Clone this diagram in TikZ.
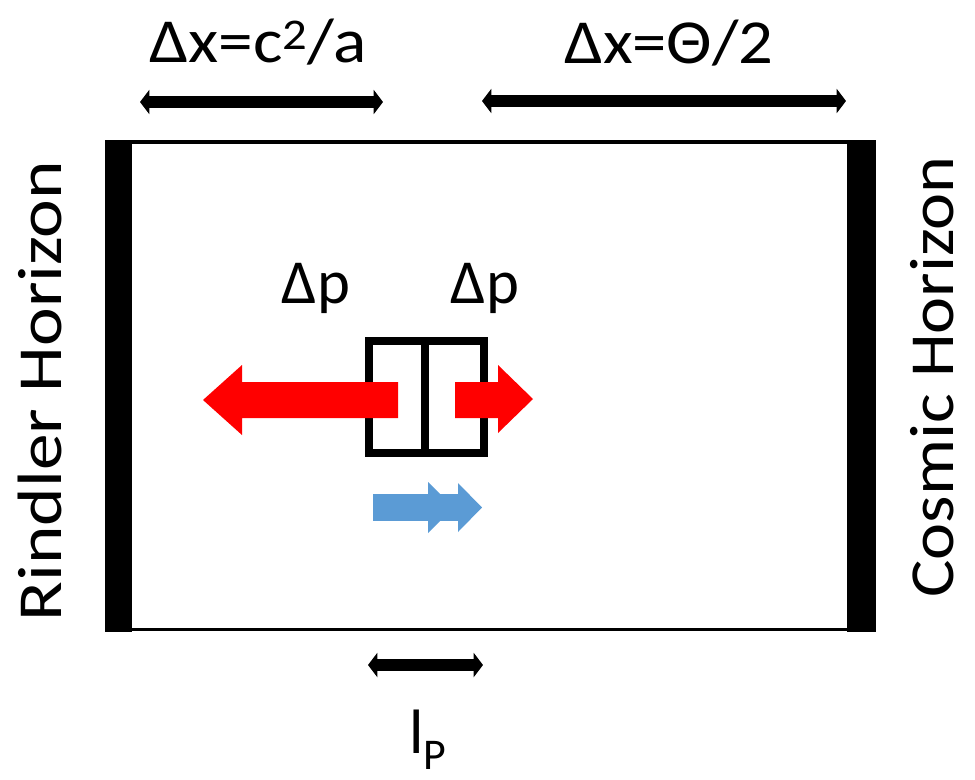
\documentclass[tikz,border=0pt]{standalone}
\usepackage{fontspec}
\setmainfont{Carlito}
\usetikzlibrary{arrows.meta}
\definecolor{pblue}{HTML}{5B9BD5}
\definecolor{pred}{HTML}{FF0000}
\tikzset{
  dimarrow/.style={line width=9pt, {Triangle[length=7pt,width=18pt]}-{Triangle[length=7pt,width=18pt]}},
  lbl/.style={font=\fontsize{47}{56}\selectfont, anchor=base, inner sep=0pt},
  sidelbl/.style={font=\fontsize{47}{56}\selectfont, anchor=base, inner sep=0pt, rotate=90},
  bar/.style={fill=black, draw=none},
}
\begin{document}
\begin{tikzpicture}[x=0.75pt,y=-0.75pt]
\useasboundingbox (0,0) rectangle (975,779);
% frame
\draw[line width=2.8pt] (118,142) -- (861,142);
\draw[line width=2.8pt] (118,629.5) -- (861,629.5);
\fill[bar] (105,140) rectangle (132,631.5);
\fill[bar] (847,140) rectangle (876,631.5);
% dimension arrows
\coordinate (tl1) at (140,102); \coordinate (tl2) at (383,102);
\coordinate (tr1) at (482,101); \coordinate (tr2) at (846,101);
\coordinate (b1) at (368,665); \coordinate (b2) at (483,665);
\draw[dimarrow] (tl1) -- (tl2);
\draw[dimarrow] (tr1) -- (tr2);
\draw[dimarrow] (b1) -- (b2);
% labels
\node[lbl] (dx1) at (258,62) {\scalebox{1.11}[1]{Δx=c\textsuperscript{2}/a}};
\node[lbl] (dx2) at (669,63) {\scalebox{1.095}[1]{Δx=Θ/2}};
\node[lbl] (dp1) at (316,303) {Δp};
\node[lbl] (dp2) at (485,303) {Δp};
\node[sidelbl] (rh) at (61,391) {\scalebox{1.17}[1]{Rindler Horizon}};
\node[sidelbl] (ch) at (953,377) {\scalebox{1.12}[1]{Cosmic Horizon}};
\node[lbl] (lp) at (428,753) {l\textsubscript{P}};
% box
\draw[line width=6.5pt] (369,341) rectangle (484,453);
\draw[line width=6.5pt] (425,341) -- (425,453);
% red arrows
\fill[pred] (398,382) -- (242,382) -- (242,365) -- (203,400) -- (242,435) -- (242,418) -- (398,418) -- cycle;
\fill[pred] (455,382) -- (498,382) -- (498,365) -- (533,399) -- (498,433) -- (498,418) -- (455,418) -- cycle;
% blue arrow
\fill[pblue] (373,494) rectangle (460,521);
\fill[pblue] (428,482) -- (454,507.5) -- (428,533) -- cycle;
\fill[pblue] (458,483) -- (482,507.5) -- (458,532) -- cycle;
\end{tikzpicture}
\end{document}
